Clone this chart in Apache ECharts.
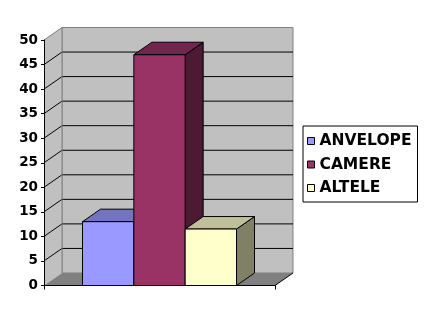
<!DOCTYPE html>
<html>
<head>
<meta charset="utf-8">
<script src="https://cdn.jsdelivr.net/npm/echarts@6/dist/echarts.min.js"></script>
<style>
html,body{margin:0;padding:0;background:#fff;}
#c{width:428px;height:326px;}
</style>
</head>
<body>
<div id="c"></div>
<script>
// ---- data ----
var categories = [''];
var seriesNames = ['ANVELOPE', 'CAMERE', 'ALTELE'];
var anvelope = [13];
var camere = [47];
var altele = [11.5];
var yTicks = [0, 5, 10, 15, 20, 25, 30, 35, 40, 45, 50];

// ---- style ----
var DX = 18, DY = -12.5;
var frontColors = ['#9999FF', '#993366', '#FFFFCC'];
var topColors = ['#7373BF', '#73264D', '#BFBF99'];
var sideColors = ['#4D4D80', '#4D1933', '#808066'];
var seriesData = [anvelope, camere, altele];

var chart = echarts.init(document.getElementById('c'), null, {renderer: 'canvas'});

function barRender(idx) {
  return function (params, api) {
    var v = api.value(1);
    var top = api.coord([api.value(0), v]);
    var base = api.coord([api.value(0), 0]);
    var band = api.size([1, 0])[0];
    var w = band * 2 / 9;
    var x0 = top[0] - 1.5 * w + idx * w;
    var yt = top[1], y0 = base[1];
    var st = {stroke: '#000', lineWidth: 1};
    return {
      type: 'group',
      children: [
        {type: 'polygon', shape: {points: [[x0 + w, yt], [x0 + w + DX, yt + DY], [x0 + w + DX, y0 + DY], [x0 + w, y0]]},
          style: Object.assign({fill: sideColors[idx]}, st)},
        {type: 'polygon', shape: {points: [[x0, yt], [x0 + DX, yt + DY], [x0 + w + DX, yt + DY], [x0 + w, yt]]},
          style: Object.assign({fill: topColors[idx]}, st)},
        {type: 'rect', shape: {x: x0, y: yt, width: w, height: y0 - yt},
          style: Object.assign({fill: frontColors[idx]}, st)}
      ]
    };
  };
}

function wallRender(params, api) {
  var a = api.coord([0, 50]);
  var b = api.coord([0, 0]);
  var band = api.size([1, 0])[0];
  var xl = a[0] - band / 2, xr = a[0] + band / 2;
  var yt = a[1], yb = b[1];
  var children = [
    {type: 'polygon', shape: {points: [[xl + DX, yt + DY], [xr + DX, yt + DY], [xr + DX, yb + DY], [xl + DX, yb + DY]]},
      style: {fill: '#C0C0C0', stroke: '#808080', lineWidth: 1}},
    {type: 'polygon', shape: {points: [[xl, yt], [xl + DX, yt + DY], [xl + DX, yb + DY], [xl, yb]]},
      style: {fill: '#C0C0C0', stroke: null}},
    {type: 'polygon', shape: {points: [[xl, yb], [xl + DX, yb + DY], [xr + DX, yb + DY], [xr, yb]]},
      style: {fill: '#808080', stroke: null}}
  ];
  for (var i = 0; i < yTicks.length; i++) {
    var t = yTicks[i];
    if (t === 0) continue;
    var p = api.coord([0, t]);
    var col = (t === 50) ? '#808080' : '#000';
    if (t !== 50) {
      children.push({type: 'line', shape: {x1: xl + DX, y1: p[1] + DY, x2: xr + DX, y2: p[1] + DY},
        style: {stroke: '#000', lineWidth: 1}});
    }
    children.push({type: 'line', shape: {x1: xl, y1: p[1], x2: xl + DX, y2: p[1] + DY},
      style: {stroke: col, lineWidth: 1}});
  }
  children.push({type: 'line', shape: {x1: xl + DX, y1: yt + DY, x2: xl + DX, y2: yb + DY},
    style: {stroke: '#808080', lineWidth: 1}});
  children.push({type: 'line', shape: {x1: xr, y1: yb, x2: xr + DX, y2: yb + DY},
    style: {stroke: '#000', lineWidth: 1}});
  return {type: 'group', children: children};
}

var series = [{
  type: 'custom', name: 'walls', renderItem: wallRender, data: [[0, 0]],
  encode: {x: 0, y: 1}, silent: true, z: 1, clip: false
}];
for (var i = 0; i < seriesNames.length; i++) {
  series.push({
    type: 'custom', name: seriesNames[i], renderItem: barRender(i),
    data: [[0, seriesData[i][0]]], encode: {x: 0, y: 1},
    itemStyle: {color: frontColors[i]}, z: 2 + i, clip: false
  });
}

chart.setOption({
  animation: false,
  backgroundColor: '#fff',
  grid: {left: 44, top: 40, width: 231, height: 245.5, containLabel: false},
  xAxis: {
    type: 'category', data: categories, boundaryGap: true,
    axisLine: {show: true, lineStyle: {color: '#000', width: 1}},
    axisTick: {show: true, length: 4, lineStyle: {color: '#000'}},
    axisLabel: {show: false}, splitLine: {show: false}, z: 10
  },
  yAxis: {
    type: 'value', min: 0, max: 50, interval: 5,
    axisLine: {show: true, lineStyle: {color: '#000', width: 1}},
    axisTick: {show: true, length: 3, lineStyle: {color: '#000'}},
    axisLabel: {color: '#000', fontFamily: 'DejaVu Sans', fontWeight: 'bold', fontSize: 13.5, margin: 6},
    splitLine: {show: false}, z: 10
  },
  legend: {
    data: seriesNames, orient: 'vertical', left: 303, top: 126,
    backgroundColor: '#fff', borderColor: '#000', borderWidth: 1, borderRadius: 0,
    padding: [7, 6, 6, 4], itemGap: 7.5, itemWidth: 7, itemHeight: 7, icon: 'rect',
    itemStyle: {borderColor: '#000', borderWidth: 1},
    textStyle: {color: '#000', fontFamily: 'DejaVu Sans', fontWeight: 'bold', fontSize: 15.5, lineHeight: 15},
    selectedMode: false
  },
  series: series
});
</script>
</body>
</html>
